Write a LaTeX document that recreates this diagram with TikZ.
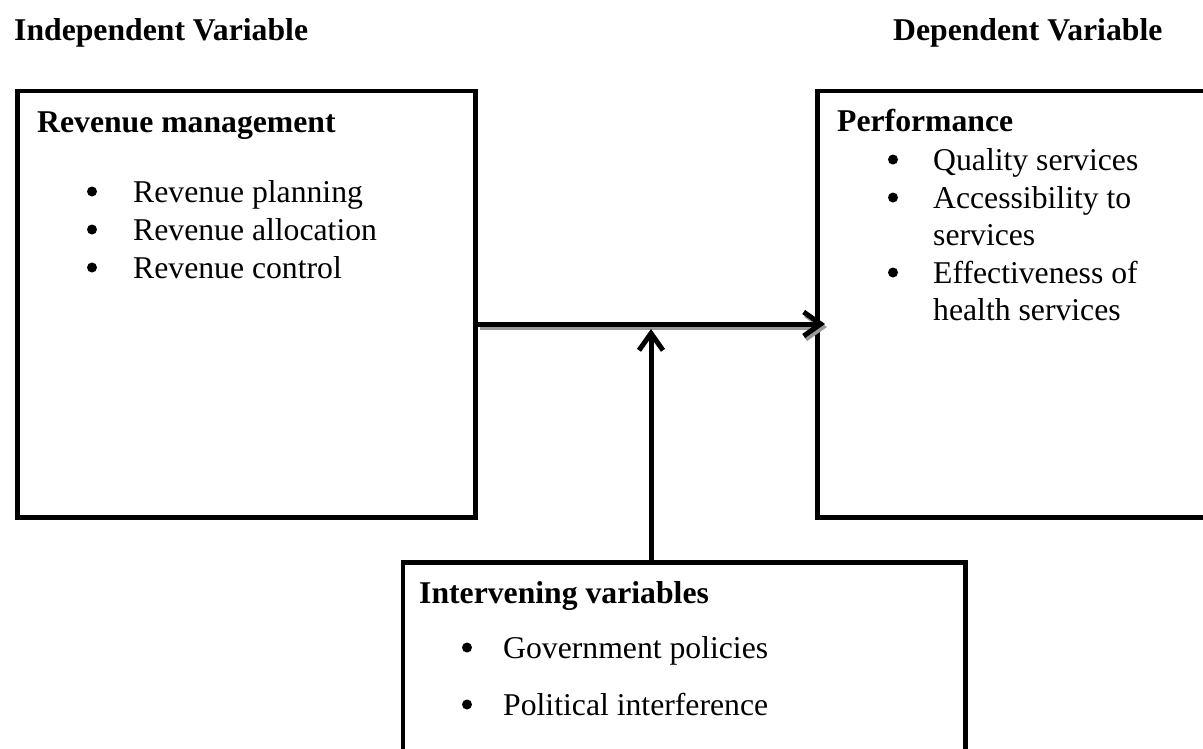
\documentclass[tikz,border=0pt]{standalone}
\usepackage{fontspec}
\setmainfont{Liberation Serif}
\usetikzlibrary{arrows.meta}
\begin{document}
\begin{tikzpicture}[x=1pt,y=-1pt,
  box/.style={draw=black, line width=4.5pt, inner sep=0pt, anchor=north west},
  txt/.style={anchor=base west, inner sep=0pt, font=\fontsize{31.7}{37.5}\selectfont},
  hd/.style={anchor=base west, inner sep=0pt, font=\fontsize{31.7}{37.5}\selectfont\bfseries},
  bul/.style={circle, fill=black, inner sep=0pt, minimum size=10pt, yshift=10.5pt},
  conn/.style={line width=5pt, -{Straight Barb[length=17pt,width=24pt]}},
  shade/.style={conn, draw=black!40, transform canvas={xshift=2pt,yshift=-3pt}}]
\useasboundingbox (0,0) rectangle (1203,748);
% boxes
\node[box, minimum width=458pt, minimum height=426.5pt] (lbox) at (15,88.5) {};
\node[box, minimum width=400pt, minimum height=426.5pt] (rbox) at (815,88.5) {};
\node[box, minimum width=562.5pt, minimum height=205pt] (ibox) at (400.5,560) {};
% titles
\node[hd] (tind) at (14,40) {Independent Variable};
\node[hd] (tdep) at (893,40) {Dependent Variable};
% left box text
\node[hd] (lh) at (37,132) {Revenue management};
\node[bul] (lb1) at (92,202) {};
\node[txt] (l1) at (133,202) {Revenue planning};
\node[bul] (lb2) at (92,240) {};
\node[txt] (l2) at (133,240) {Revenue allocation};
\node[bul] (lb3) at (92,278) {};
\node[txt] (l3) at (133,278) {Revenue control};
% right box text
\node[hd] (rh) at (837,131) {Performance};
\node[bul] (rb1) at (893,170) {};
\node[txt] (r1) at (933,170) {Quality services};
\node[bul] (rb2) at (893,208) {};
\node[txt] (r2) at (933,208) {Accessibility to};
\node[txt] (r2b) at (933,245) {services};
\node[bul] (rb3) at (893,283) {};
\node[txt] (r3) at (933,283) {Effectiveness of};
\node[txt] (r3b) at (933,320) {health services};
% intervening box text
\node[hd] (ih) at (419,603) {Intervening variables};
\node[bul] (ib1) at (467,658) {};
\node[txt] (i1) at (503,658) {Government policies};
\node[bul] (ib2) at (467,715) {};
\node[txt] (i2) at (503,715) {Political interference};
% connectors
\coordinate (hend) at (825,324);
\coordinate (vend) at (651,329);
\draw[shade] (lbox.east |- hend) -- (hend);
\draw[conn] (lbox.east |- hend) -- (hend);
\draw[conn] (ibox.north -| vend) -- (vend);
\end{tikzpicture}
\end{document}
